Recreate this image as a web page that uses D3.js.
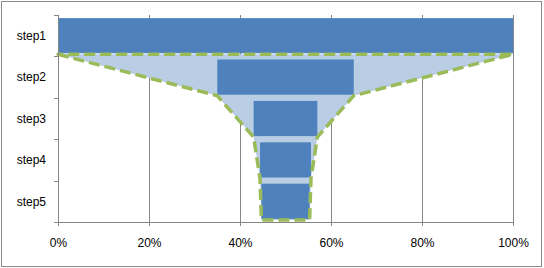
<!DOCTYPE html>
<html>
<head>
<meta charset="utf-8">
<script src="https://d3js.org/d3.v7.min.js"></script>
<style>
  body { margin: 0; background: #fff; }
  svg text { font-family: "Liberation Sans", Arial, sans-serif; font-size: 12px; fill: #000; }
</style>
</head>
<body>
<svg width="544" height="268"></svg>
<script>
// funnel data (share of step1, in %)
var steps = ["step1", "step2", "step3", "step4", "step5"];
var values = [100, 30, 14, 11.2, 10.6];
var xTicks = [0, 20, 40, 60, 80, 100];

var margin = {top: 15, left: 58, right: 31, bottom: 46};
var W = 544, H = 268;
var width = W - margin.left - margin.right,
    height = H - margin.top - margin.bottom;

var svg = d3.select("svg");

// chart border
svg.append("rect")
  .attr("x", 1.5).attr("y", 1.5)
  .attr("width", 540).attr("height", 265)
  .style("fill", "#fff")
  .style("stroke", "#898989")
  .style("stroke-width", 1);

var g = svg.append("g")
  .attr("transform", "translate(" + margin.left + "," + margin.top + ")");

var x = d3.scaleLinear().domain([0, 100]).range([0, width]);
var y = d3.scaleBand().domain(steps).range([0, height])
  .paddingInner(0.15).paddingOuter(0.075);

var data = steps.map(function(s, i) {
  return {step: s, value: values[i], left: (100 - values[i]) / 2};
});

// gridlines
g.selectAll("line.grid").data(xTicks.slice(1)).enter()
  .append("line")
  .attr("class", "grid")
  .attr("x1", function(d) { return Math.round(x(d)) + 0.5; })
  .attr("x2", function(d) { return Math.round(x(d)) + 0.5; })
  .attr("y1", 0).attr("y2", height)
  .style("stroke", "#868686");

// funnel outline area (bar bottoms)
var pts = [];
data.forEach(function(d) { pts.push([x(d.left), y(d.step) + y.bandwidth() + 1]); });
data.slice().reverse().forEach(function(d) { pts.push([x(d.left + d.value), y(d.step) + y.bandwidth() + 1]); });

g.append("path")
  .attr("d", d3.line()(pts) + "Z")
  .style("fill", "#B9CDE5")
  .style("stroke", "none");

// bars
g.selectAll("rect.bar").data(data).enter()
  .append("rect")
  .attr("class", "bar")
  .attr("x", function(d) { return x(d.left); })
  .attr("y", function(d) { return y(d.step); })
  .attr("width", function(d) { return x(d.value) - x(0); })
  .attr("height", y.bandwidth())
  .style("fill", "#4F81BD");

g.append("path")
  .attr("d", d3.line()(pts) + "Z")
  .style("fill", "none")
  .style("stroke", "#9BBB59")
  .style("stroke-width", 3.5)
  .style("stroke-dasharray", "11,5")
  .style("stroke-linejoin", "round");

// x axis
var xAxis = g.append("g")
  .attr("transform", "translate(0," + height + ")")
  .call(d3.axisBottom(x).tickValues(xTicks).tickSize(4).tickPadding(12)
    .tickFormat(function(d) { return d + "%"; }));
xAxis.select(".domain").style("stroke", "#868686");
xAxis.selectAll(".tick line").style("stroke", "#868686");
xAxis.selectAll("text").style("font-size", "12px").style("font-family", "Liberation Sans, Arial, sans-serif");

// y axis with ticks between categories
var yAxisG = g.append("g");
yAxisG.append("line")
  .attr("x1", 0.5).attr("x2", 0.5)
  .attr("y1", 0).attr("y2", height)
  .style("stroke", "#868686");
var bounds = steps.map(function(s) { return y(s) - y.step() * y.paddingInner() / 2; });
bounds.push(height);
yAxisG.selectAll("line.tk").data(bounds).enter()
  .append("line")
  .attr("class", "tk")
  .attr("x1", -4).attr("x2", 0)
  .attr("y1", function(d) { return Math.round(d) + 0.5; })
  .attr("y2", function(d) { return Math.round(d) + 0.5; })
  .style("stroke", "#868686");
yAxisG.selectAll("text").data(steps).enter()
  .append("text")
  .attr("x", -12)
  .attr("y", function(d) { return y(d) + y.bandwidth() / 2; })
  .attr("dy", "0.35em")
  .attr("text-anchor", "end")
  .text(function(d) { return d; });
</script>
</body>
</html>
